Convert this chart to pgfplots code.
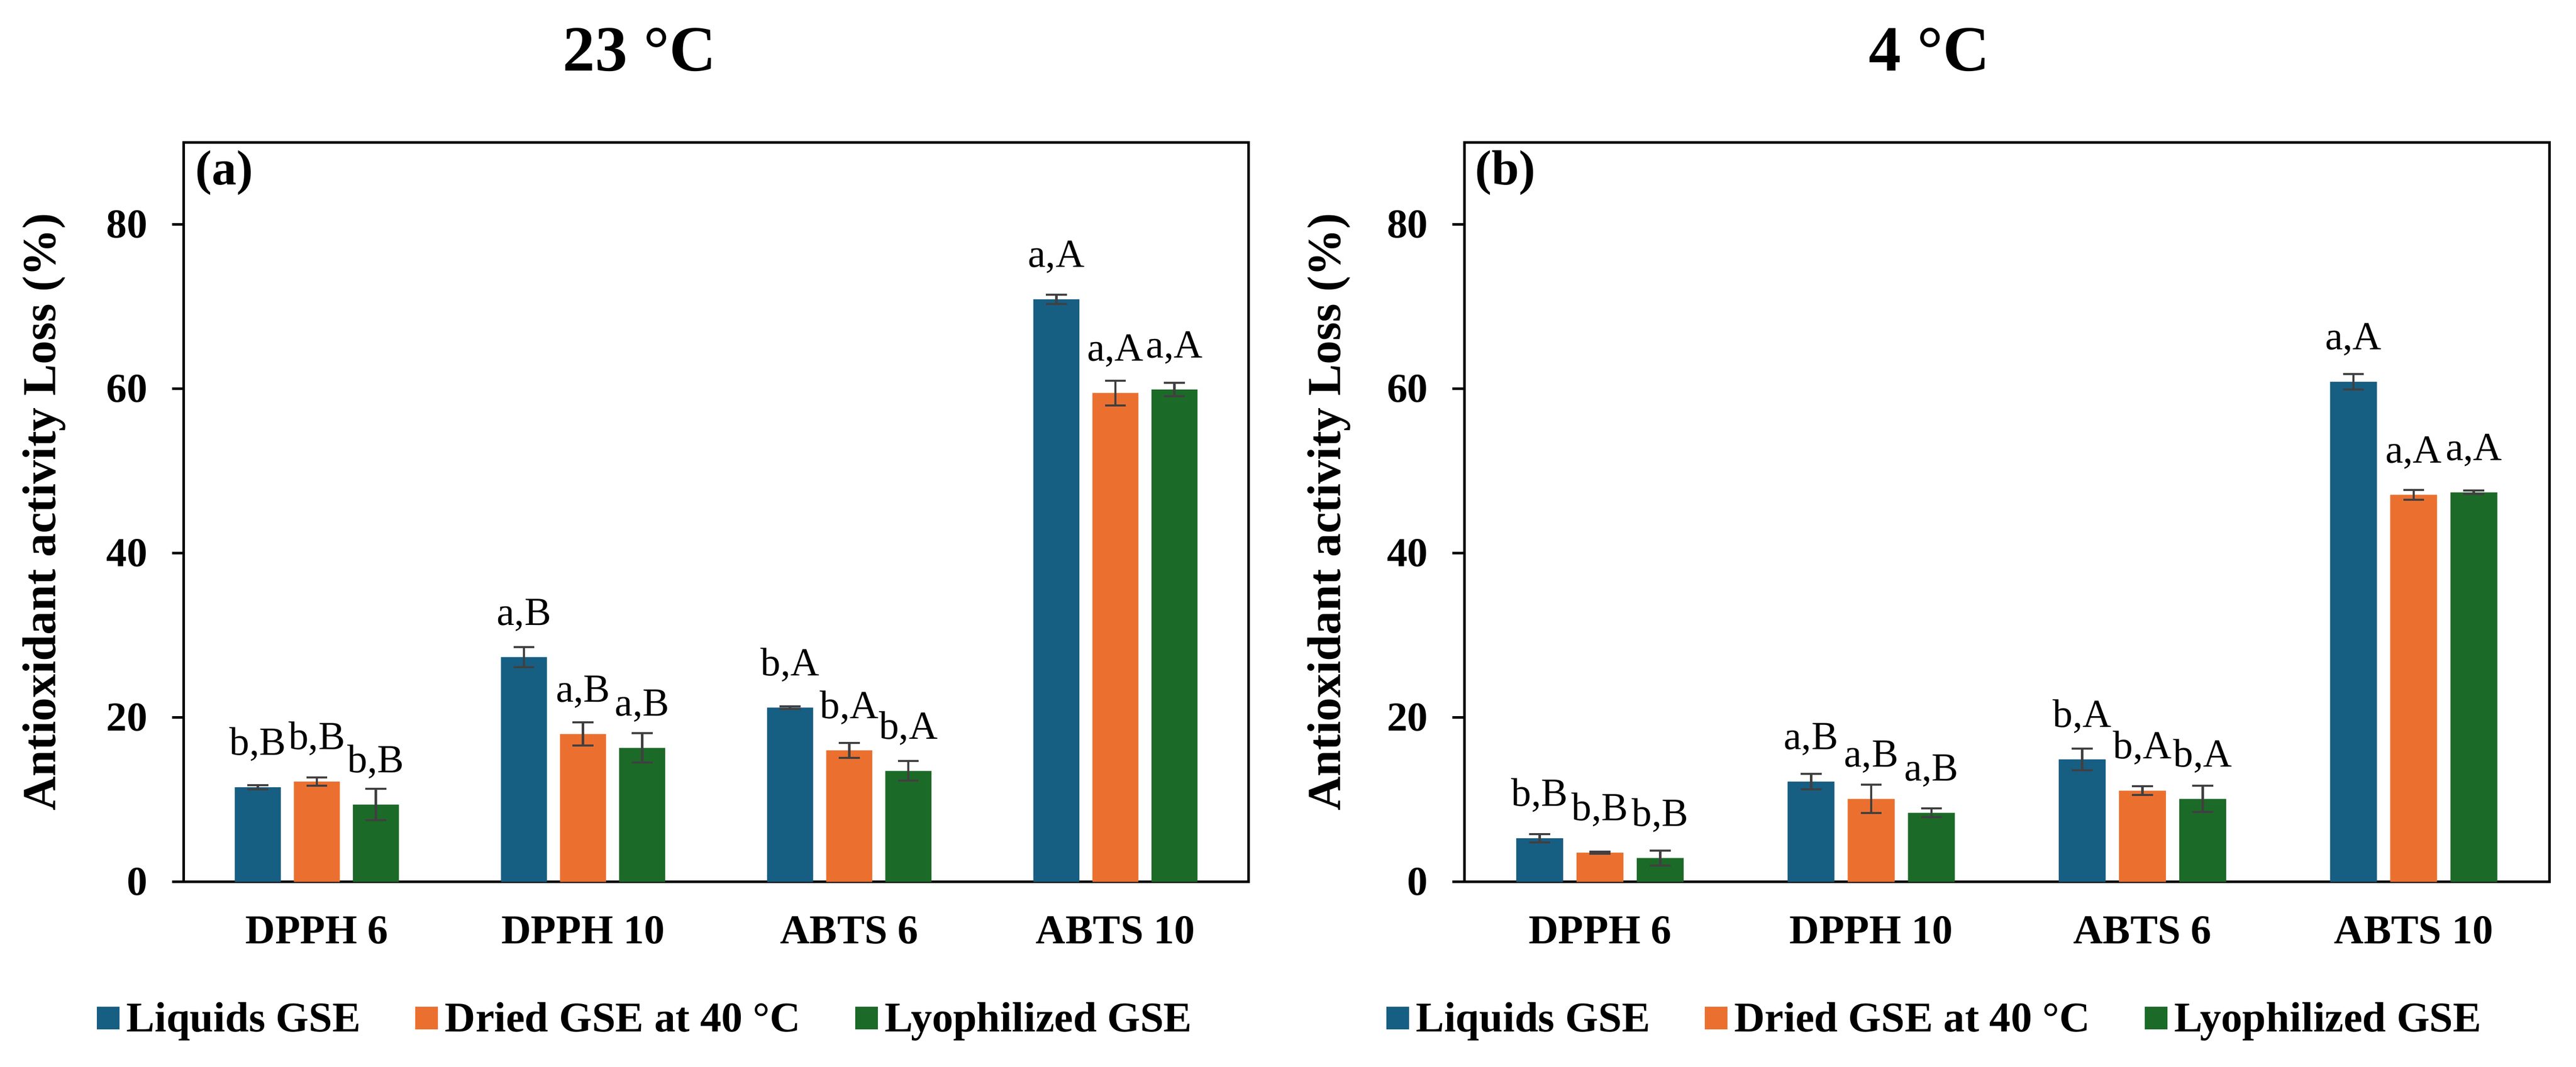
\documentclass[border=0pt]{standalone}
\usepackage{fontspec}
\setmainfont{Liberation Serif}
\usepackage{pgfplots}
\usepackage{pgfplotstable}
\pgfplotsset{compat=1.18}

\definecolor{cblue}{HTML}{175E83}
\definecolor{corange}{HTML}{EB7030}
\definecolor{cgreen}{HTML}{1C6A27}
\definecolor{cerr}{HTML}{404040}

% 23 C
\pgfplotstableread{
x y e lab
0 11.5 0.25 b,B
1 27.35 1.2 a,B
2 21.2 0.15 b,A
3 70.9 0.55 a,A
}\leftA
\pgfplotstableread{
x y e lab
0 12.2 0.5 b,B
1 18.0 1.4 a,B
2 16.0 0.9 b,A
3 59.5 1.5 a,A
}\leftB
\pgfplotstableread{
x y e lab
0 9.4 1.9 b,B
1 16.3 1.8 a,B
2 13.5 1.2 b,A
3 59.9 0.8 a,A
}\leftC
% 4 C
\pgfplotstableread{
x y e lab
0 5.3 0.5 b,B
1 12.2 0.95 a,B
2 14.9 1.3 b,A
3 60.85 0.95 a,A
}\rightA
\pgfplotstableread{
x y e lab
0 3.55 0.1 b,B
1 10.1 1.7 a,B
2 11.1 0.55 b,A
3 47.1 0.6 a,A
}\rightB
\pgfplotstableread{
x y e lab
0 2.9 0.9 b,B
1 8.4 0.55 a,B
2 10.1 1.6 b,A
3 47.4 0.2 a,A
}\rightC

\pgfplotsset{
  myaxis/.style={
    scale only axis, height=179.9pt, anchor=south west,
    ymin=0, ymax=90, xmin=-0.5, xmax=3.5,
    ytick={0,20,40,60,80}, xtick={0,1,2,3},
    xticklabels={DPPH 6, DPPH 10, ABTS 6, ABTS 10},
    ybar, bar width=0.173,
    axis line style={line width=0.6pt, black},
    tick align=outside, ytick pos=left, xtick style={draw=none},
    major tick length=2.9pt,
    ytick style={line width=0.6pt, black},
    /pgf/number format/assume math mode=true,
    yticklabel style={font=\bfseries\fontsize{10}{12}\selectfont, xshift=-2.4pt},
    xticklabel style={font=\bfseries\fontsize{10}{12}\selectfont, yshift=-2pt},
    ylabel={Antioxidant activity Loss (\%)},
    ylabel style={font=\bfseries\fontsize{11.5}{13}\selectfont, anchor=center},
    every axis title shift=0pt,
    title style={font=\bfseries\fontsize{15.7}{19}\selectfont, anchor=center},
    nodes near coords, point meta=explicit symbolic,
    nodes near coords style={anchor=base, yshift=7.8pt, font=\fontsize{9.7}{11}\selectfont, text=black},
    legend columns=3,
    legend style={draw=none, fill=none, anchor=center,
      font=\bfseries\fontsize{10.3}{12}\selectfont,
      /tikz/every even column/.append style={column sep=11.6pt},
      nodes={inner xsep=1.7pt}},
    legend image code/.code={\fill[##1] (0pt,-2.3pt) rectangle (5.5pt,3.2pt);},
    error bars/y dir=both, error bars/y explicit,
    error bars/error bar style={draw=cerr, line width=0.6pt},
    error bars/error mark options={rotate=90, mark size=2.55pt, line width=0.5pt, draw=cerr},
  },
}

\begin{document}
\begin{tikzpicture}
\useasboundingbox (0,0) rectangle (626.6pt,259.5pt);
\begin{axis}[myaxis, at={(44.7pt,45pt)}, width=259pt,
  title={23 °C}, title style={at={(axis description cs:0.428,1.125)}},
  ylabel style={at={(axis description cs:-0.131,0.5)}},
  legend style={at={(0.436,-0.187)}}]
\addplot[fill=cblue, draw=none, bar shift=-0.222] table[x=x, y=y, y error=e, meta=lab] {\leftA};
\addplot[fill=corange, draw=none, bar shift=0] table[x=x, y=y, y error=e, meta=lab] {\leftB};
\addplot[fill=cgreen, draw=none, bar shift=0.222] table[x=x, y=y, y error=e, meta=lab] {\leftC};
\legend{Liquids GSE, Dried GSE at 40 °C, Lyophilized GSE}
\node[font=\bfseries\fontsize{12}{14}\selectfont] at (rel axis cs:0.038,0.959) {(a)};
\end{axis}
\begin{axis}[myaxis, at={(356.2pt,45pt)}, width=263.9pt,
  title={4 °C}, title style={at={(axis description cs:0.4286,1.125)}},
  ylabel style={at={(axis description cs:-0.125,0.5)}},
  legend style={at={(0.436,-0.187)}}]
\addplot[fill=cblue, draw=none, bar shift=-0.222] table[x=x, y=y, y error=e, meta=lab] {\rightA};
\addplot[fill=corange, draw=none, bar shift=0] table[x=x, y=y, y error=e, meta=lab] {\rightB};
\addplot[fill=cgreen, draw=none, bar shift=0.222] table[x=x, y=y, y error=e, meta=lab] {\rightC};
\legend{Liquids GSE, Dried GSE at 40 °C, Lyophilized GSE}
\node[font=\bfseries\fontsize{12}{14}\selectfont] at (rel axis cs:0.038,0.959) {(b)};
\end{axis}
\end{tikzpicture}
\end{document}
